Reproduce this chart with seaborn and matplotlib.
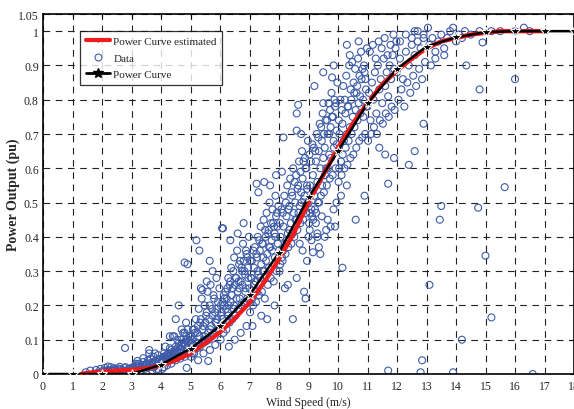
import numpy as np
import pandas as pd
import matplotlib
matplotlib.use("Agg")
import matplotlib.pyplot as plt
import seaborn as sns
from matplotlib.lines import Line2D

# ---------------- data ----------------
# Power curve (black, star markers) at integer wind speeds
pc_x = [0, 1, 2, 3, 4, 5, 6, 7, 8, 9, 10, 11, 12, 13, 14, 15, 16, 17, 18]
pc_y = [0, 0, 0, 0, 0.027, 0.074, 0.14, 0.23, 0.354, 0.515, 0.65, 0.79, 0.89,
        0.955, 0.982, 0.997, 1.0, 1.0, 1.0]

# Estimated power curve (red)
est_x = [1.3, 1.5, 2.0, 2.5, 3.0, 3.5, 4.0, 4.5, 5.0, 5.5, 6.0, 6.5, 7.0, 7.5,
         8.0, 8.5, 9.0, 9.5, 10.0, 10.5, 11.0, 11.5, 12.0, 12.5, 13.0, 13.5,
         14.0, 14.5, 15.0, 15.5, 16.0, 16.5, 17.0]
est_y = [0.0, 0.003, 0.007, 0.01, 0.012, 0.016, 0.025, 0.04, 0.06, 0.09, 0.122,
         0.162, 0.208, 0.268, 0.335, 0.41, 0.5, 0.58, 0.66, 0.73, 0.79, 0.845,
         0.885, 0.92, 0.95, 0.97, 0.98, 0.99, 0.995, 1.0, 1.0, 1.0, 1.0]

# Measured data (blue circles), grouped by wind-speed band
xa = [1.45, 1.6, 1.7, 1.8, 1.85, 1.95, 2.0, 2.05, 2.1, 2.15, 2.2, 2.25, 2.3, 2.35, 2.4, 2.45, 2.5, 2.55,
      2.6, 2.65, 2.7, 2.75, 2.8, 2.85, 2.9, 2.95, 2.1, 2.3, 2.5, 2.7, 2.9, 2.2, 2.4, 2.6, 2.8, 2.78]
ya = [0.005, 0.01, 0.0, 0.012, 0.004, 0.015, 0.008, 0.002, 0.018, 0.006, 0.012, 0.0, 0.02, 0.009, 0.003,
      0.014, 0.007, 0.016, 0.001, 0.011, 0.005, 0.018, 0.009, 0.004, 0.013, 0.006, 0.0, 0.004, 0.0, 0.002,
      0.001, 0.022, 0.017, 0.021, 0.02, 0.076]

xb = [3.0, 3.05, 3.1, 3.15, 3.2, 3.25, 3.3, 3.35, 3.4, 3.45, 3.5, 3.55, 3.6, 3.65, 3.7, 3.75, 3.8, 3.85,
      3.9, 3.95, 3.1, 3.3, 3.5, 3.7, 3.9, 3.2, 3.4, 3.6, 3.8, 3.15, 3.45, 3.75, 3.95, 3.6, 3.85]
yb = [0.01, 0.02, 0.005, 0.025, 0.012, 0.03, 0.008, 0.018, 0.035, 0.015, 0.028, 0.04, 0.02, 0.045, 0.03,
      0.05, 0.038, 0.025, 0.055, 0.042, 0.0, 0.003, 0.0, 0.01, 0.015, 0.038, 0.046, 0.06, 0.06, 0.03,
      0.022, 0.02, 0.03, 0.07, 0.012]

xc = [4.0, 4.05, 4.1, 4.15, 4.2, 4.25, 4.3, 4.35, 4.4, 4.45, 4.5, 4.55, 4.6, 4.65, 4.7, 4.75, 4.8, 4.85,
      4.9, 4.95, 4.05, 4.2, 4.35, 4.5, 4.65, 4.8, 4.95, 4.1, 4.3, 4.55, 4.75, 4.9, 4.15, 4.45, 4.7, 4.85,
      4.3, 4.4, 4.5, 4.8, 4.8, 4.9, 4.87, 4.6]
yc = [0.03, 0.045, 0.02, 0.05, 0.038, 0.06, 0.042, 0.07, 0.055, 0.065, 0.08, 0.05, 0.09, 0.07, 0.1, 0.06,
      0.085, 0.11, 0.075, 0.095, 0.015, 0.025, 0.03, 0.04, 0.045, 0.05, 0.06, 0.06, 0.075, 0.1, 0.12,
      0.13, 0.08, 0.11, 0.13, 0.15, 0.11, 0.11, 0.16, 0.12, 0.325, 0.32, 0.018, 0.2]

xd = [5.0, 5.05, 5.1, 5.15, 5.2, 5.25, 5.3, 5.35, 5.4, 5.45, 5.5, 5.55, 5.6, 5.65, 5.7, 5.75, 5.8, 5.85,
      5.9, 5.95, 5.02, 5.12, 5.22, 5.32, 5.42, 5.52, 5.62, 5.72, 5.82, 5.92, 5.08, 5.18, 5.28, 5.38,
      5.48, 5.58, 5.68, 5.78, 5.88, 5.98, 5.04, 5.26, 5.44, 5.66, 5.84, 5.2, 5.3, 5.35, 5.4, 5.65, 5.6,
      5.75, 5.9, 5.55]
yd = [0.07, 0.1, 0.085, 0.12, 0.09, 0.14, 0.11, 0.16, 0.13, 0.1, 0.15, 0.18, 0.12, 0.2, 0.14, 0.17, 0.22,
      0.15, 0.19, 0.13, 0.05, 0.06, 0.075, 0.08, 0.09, 0.095, 0.1, 0.11, 0.12, 0.13, 0.13, 0.16, 0.19,
      0.22, 0.2, 0.24, 0.26, 0.23, 0.28, 0.25, 0.09, 0.04, 0.06, 0.07, 0.085, 0.39, 0.36, 0.25, 0.245,
      0.33, 0.038, 0.3, 0.16, 0.27]

xe = [6.0, 6.05, 6.1, 6.15, 6.2, 6.25, 6.3, 6.35, 6.4, 6.45, 6.5, 6.55, 6.6, 6.65, 6.7, 6.75, 6.8, 6.85,
      6.9, 6.95, 6.02, 6.12, 6.22, 6.32, 6.42, 6.52, 6.62, 6.72, 6.82, 6.92, 6.08, 6.18, 6.28, 6.38,
      6.48, 6.58, 6.68, 6.78, 6.88, 6.98, 6.04, 6.14, 6.26, 6.36, 6.46, 6.56, 6.66, 6.76, 6.86, 6.96,
      6.07, 6.1, 6.3, 6.5, 6.7, 6.9, 6.35, 6.6, 6.8]
ye = [0.14, 0.18, 0.16, 0.22, 0.19, 0.25, 0.2, 0.27, 0.23, 0.3, 0.26, 0.28, 0.24, 0.32, 0.27, 0.3, 0.33,
      0.29, 0.35, 0.31, 0.1, 0.12, 0.13, 0.15, 0.16, 0.17, 0.19, 0.2, 0.21, 0.22, 0.21, 0.24, 0.28,
      0.31, 0.34, 0.36, 0.33, 0.38, 0.36, 0.4, 0.17, 0.2, 0.18, 0.21, 0.19, 0.22, 0.25, 0.26, 0.24,
      0.28, 0.425, 0.425, 0.08, 0.1, 0.12, 0.14, 0.39, 0.41, 0.44]

xf = [7.0, 7.05, 7.1, 7.15, 7.2, 7.25, 7.3, 7.35, 7.4, 7.45, 7.5, 7.55, 7.6, 7.65, 7.7, 7.75, 7.8, 7.85,
      7.9, 7.95, 7.02, 7.12, 7.22, 7.32, 7.42, 7.52, 7.62, 7.72, 7.82, 7.92, 7.08, 7.18, 7.28, 7.38,
      7.48, 7.58, 7.68, 7.78, 7.88, 7.98, 7.04, 7.16, 7.26, 7.36, 7.46, 7.56, 7.66, 7.76, 7.86, 7.96,
      7.24, 7.3, 7.5, 7.7, 7.6, 7.85, 7.4, 7.1, 7.9]
yf = [0.25, 0.28, 0.22, 0.31, 0.27, 0.34, 0.29, 0.36, 0.32, 0.38, 0.3, 0.4, 0.35, 0.42, 0.37, 0.39, 0.44,
      0.41, 0.46, 0.43, 0.18, 0.2, 0.21, 0.23, 0.24, 0.22, 0.26, 0.28, 0.27, 0.3, 0.33, 0.37, 0.4, 0.43,
      0.45, 0.47, 0.5, 0.48, 0.52, 0.49, 0.21, 0.26, 0.24, 0.28, 0.3, 0.33, 0.31, 0.36, 0.34, 0.38,
      0.555, 0.53, 0.56, 0.55, 0.16, 0.2, 0.17, 0.14, 0.58]

xg = [8.0, 8.05, 8.1, 8.15, 8.2, 8.25, 8.3, 8.35, 8.4, 8.45, 8.5, 8.55, 8.6, 8.65, 8.7, 8.75, 8.8, 8.85,
      8.9, 8.95, 8.02, 8.12, 8.22, 8.32, 8.42, 8.52, 8.62, 8.72, 8.82, 8.92, 8.08, 8.18, 8.28, 8.38,
      8.48, 8.58, 8.68, 8.78, 8.88, 8.98, 8.04, 8.14, 8.26, 8.36, 8.46, 8.56, 8.66, 8.76, 8.86, 8.96,
      8.47, 8.9, 8.85, 8.3, 8.6, 8.2, 8.75, 8.1, 8.15, 8.6, 8.6, 8.65]
yg = [0.36, 0.4, 0.34, 0.43, 0.38, 0.46, 0.41, 0.49, 0.44, 0.52, 0.47, 0.5, 0.45, 0.55, 0.49, 0.53, 0.57,
      0.51, 0.6, 0.55, 0.3, 0.33, 0.35, 0.37, 0.38, 0.4, 0.42, 0.44, 0.45, 0.47, 0.48, 0.52, 0.55, 0.57,
      0.6, 0.58, 0.62, 0.65, 0.63, 0.68, 0.32, 0.36, 0.39, 0.42, 0.41, 0.45, 0.47, 0.5, 0.52, 0.54,
      0.16, 0.22, 0.24, 0.26, 0.28, 0.25, 0.7, 0.59, 0.69, 0.71, 0.76, 0.785]

xh = [9.0, 9.05, 9.1, 9.15, 9.2, 9.25, 9.3, 9.35, 9.4, 9.45, 9.5, 9.55, 9.6, 9.65, 9.7, 9.75, 9.8, 9.85,
      9.9, 9.95, 9.02, 9.12, 9.22, 9.32, 9.42, 9.52, 9.62, 9.72, 9.82, 9.92, 9.08, 9.18, 9.28, 9.38,
      9.48, 9.58, 9.68, 9.78, 9.88, 9.98, 9.04, 9.16, 9.26, 9.36, 9.46, 9.56, 9.66, 9.76, 9.86, 9.96,
      9.15, 9.4, 9.3, 9.6, 9.9, 9.2, 9.5, 9.85, 9.7, 9.5, 9.8]
yh = [0.5, 0.55, 0.48, 0.58, 0.52, 0.62, 0.56, 0.65, 0.6, 0.68, 0.63, 0.66, 0.6, 0.7, 0.64, 0.72, 0.75,
      0.68, 0.78, 0.71, 0.44, 0.46, 0.48, 0.5, 0.52, 0.53, 0.55, 0.57, 0.58, 0.6, 0.62, 0.66, 0.7, 0.73,
      0.76, 0.74, 0.79, 0.82, 0.8, 0.85, 0.42, 0.45, 0.47, 0.5, 0.55, 0.58, 0.6, 0.63, 0.66, 0.67,
      0.355, 0.35, 0.4, 0.42, 0.43, 0.84, 0.88, 0.9, 0.7, 0.79, 0.865]

xi = [10.0, 10.05, 10.1, 10.15, 10.2, 10.25, 10.3, 10.35, 10.4, 10.45, 10.5, 10.55, 10.6, 10.65, 10.7,
      10.75, 10.8, 10.85, 10.9, 10.95, 10.02, 10.12, 10.22, 10.32, 10.42, 10.52, 10.62, 10.72, 10.82,
      10.92, 10.08, 10.18, 10.28, 10.38, 10.48, 10.58, 10.68, 10.78, 10.88, 10.98, 10.04, 10.16, 10.26,
      10.36, 10.46, 10.56, 10.66, 10.76, 10.86, 10.96, 10.6, 10.15, 10.9, 10.4, 10.7, 10.3]
yi = [0.65, 0.7, 0.62, 0.73, 0.68, 0.76, 0.7, 0.78, 0.72, 0.8, 0.75, 0.82, 0.77, 0.84, 0.79, 0.81, 0.86,
      0.8, 0.88, 0.83, 0.56, 0.58, 0.6, 0.61, 0.63, 0.64, 0.66, 0.68, 0.69, 0.7, 0.8, 0.84, 0.87, 0.9,
      0.91, 0.89, 0.92, 0.94, 0.9, 0.95, 0.6, 0.64, 0.66, 0.68, 0.7, 0.72, 0.74, 0.76, 0.75, 0.78,
      0.45, 0.31, 0.52, 0.93, 0.97, 0.96]

xj = [11.0, 11.05, 11.1, 11.15, 11.2, 11.25, 11.3, 11.35, 11.4, 11.45, 11.5, 11.55, 11.6, 11.65, 11.7,
      11.75, 11.8, 11.85, 11.9, 11.95, 11.02, 11.12, 11.22, 11.32, 11.42, 11.52, 11.62, 11.72, 11.82,
      11.92, 11.08, 11.18, 11.28, 11.38, 11.48, 11.58, 11.68, 11.78, 11.88, 11.98, 11.7, 11.9, 11.7,
      11.4, 11.6]
yj = [0.78, 0.82, 0.74, 0.85, 0.8, 0.88, 0.76, 0.9, 0.83, 0.86, 0.79, 0.92, 0.84, 0.88, 0.81, 0.9, 0.86,
      0.93, 0.89, 0.95, 0.68, 0.7, 0.72, 0.7, 0.74, 0.73, 0.76, 0.75, 0.78, 0.77, 0.94, 0.96, 0.92,
      0.97, 0.95, 0.98, 0.93, 0.96, 0.99, 0.97, 0.555, 0.63, 0.01, 0.66, 0.64]

xk = [12.0, 12.1, 12.2, 12.3, 12.4, 12.5, 12.6, 12.7, 12.8, 12.9, 12.05, 12.15, 12.25, 12.35, 12.45,
      12.55, 12.65, 12.75, 12.85, 12.95, 12.1, 12.3, 12.5, 12.7, 12.9, 12.4, 12.6, 12.6, 12.9, 12.8, 12.85]
yk = [0.88, 0.92, 0.86, 0.94, 0.9, 0.96, 0.93, 0.97, 0.95, 0.98, 0.8, 0.83, 0.78, 0.85, 0.82, 0.87,
      0.84, 0.89, 0.86, 0.91, 0.97, 0.99, 0.98, 1.0, 0.99, 0.61, 0.65, 1.0, 0.73, 0.005, 0.04]

xl = [13.05, 13.1, 13.2, 13.3, 13.4, 13.5, 13.6, 13.7, 13.8, 13.9, 14.0, 14.1, 14.2, 14.3, 14.35, 14.5,
      14.8, 14.9, 15.2, 15.5, 16.0, 16.3, 16.5, 13.1, 13.45, 13.5, 14.2, 13.9, 15.0, 15.2, 14.75, 16.6,
      15.65, 14.8, 16.0, 13.15, 13.3, 13.6]
yl = [1.01, 0.96, 0.98, 0.94, 0.97, 0.99, 0.95, 0.98, 1.0, 1.01, 0.97, 0.99, 0.98, 1.0, 0.9, 0.99, 1.0,
      0.967, 1.0, 1.0, 1.0, 1.01, 1.0, 0.26, 0.45, 0.49, 0.1, 0.005, 0.345, 0.165, 0.485, 0.0, 0.545,
      0.83, 0.86, 0.9, 0.92, 0.93]

# extra points filling the dense band along the curve
xm1 = [2.02, 2.18, 2.33, 2.47, 2.62, 2.77, 2.93, 3.03, 3.12, 3.22, 3.28, 3.37, 3.43, 3.52, 3.58, 3.67,
       3.73, 3.82, 3.88, 3.97, 4.03, 4.08, 4.13, 4.18, 4.23, 4.28, 4.33, 4.38, 4.43, 4.48, 4.53, 4.58,
       4.63, 4.68, 4.73, 4.78, 4.83, 4.88, 4.93, 4.98]
ym1 = [0.006, 0.009, 0.012, 0.008, 0.014, 0.01, 0.016, 0.018, 0.015, 0.022, 0.02, 0.026, 0.024, 0.03,
       0.028, 0.034, 0.032, 0.038, 0.036, 0.044, 0.04, 0.05, 0.046, 0.055, 0.05, 0.058, 0.054, 0.064,
       0.06, 0.07, 0.066, 0.078, 0.072, 0.085, 0.08, 0.092, 0.088, 0.1, 0.096, 0.108]
xm2 = [5.03, 5.13, 5.23, 5.33, 5.43, 5.53, 5.63, 5.73, 5.83, 5.93, 6.03, 6.13, 6.23, 6.33, 6.43, 6.53,
       6.63, 6.73, 6.83, 6.93, 7.03, 7.13, 7.23, 7.33, 7.43, 7.53, 7.63, 7.73, 7.83, 7.93, 5.07, 5.27,
       5.47, 5.67, 5.87, 6.07, 6.27, 6.47, 6.67, 6.87, 7.07, 7.27, 7.47, 7.67, 7.87]
ym2 = [0.11, 0.13, 0.12, 0.15, 0.14, 0.17, 0.16, 0.19, 0.18, 0.21, 0.2, 0.23, 0.22, 0.26, 0.25, 0.28,
       0.27, 0.31, 0.3, 0.34, 0.33, 0.36, 0.35, 0.39, 0.38, 0.42, 0.41, 0.44, 0.43, 0.47, 0.06, 0.09,
       0.11, 0.13, 0.15, 0.14, 0.17, 0.2, 0.22, 0.25, 0.28, 0.3, 0.34, 0.37, 0.4]
xm3 = [8.03, 8.13, 8.23, 8.33, 8.43, 8.53, 8.63, 8.73, 8.83, 8.93, 9.03, 9.13, 9.23, 9.33, 9.43, 9.53,
       9.63, 9.73, 9.83, 9.93, 10.03, 10.13, 10.23, 10.33, 10.43, 10.53, 10.63, 10.73, 10.83, 10.93]
ym3 = [0.44, 0.47, 0.5, 0.48, 0.53, 0.56, 0.54, 0.59, 0.62, 0.6, 0.64, 0.67, 0.65, 0.69, 0.72, 0.7,
       0.74, 0.77, 0.75, 0.79, 0.74, 0.77, 0.8, 0.78, 0.83, 0.85, 0.82, 0.87, 0.89, 0.86]
xm4 = [9.05, 9.25, 9.45, 9.65, 9.85, 9.1, 9.3, 9.55, 9.75, 8.7, 8.8, 8.95, 9.0, 9.35, 9.95, 10.1, 10.3]
ym4 = [0.47, 0.44, 0.46, 0.45, 0.48, 0.39, 0.41, 0.4, 0.43, 0.38, 0.36, 0.33, 0.4, 0.37, 0.5, 0.52, 0.55]

x_ticks = list(range(0, 19))
y_ticks = [0, 0.1, 0.2, 0.3, 0.4, 0.5, 0.6, 0.7, 0.8, 0.9, 1.0, 1.05]
y_tick_labels = ["0", "0.1", "0.2", "0.3", "0.4", "0.5", "0.6", "0.7", "0.8", "0.9", "1", "1.05"]

# ---------------- plot ----------------
sns.set_style("white")
plt.rcParams["font.family"] = ["Liberation Serif", "DejaVu Serif"]

data_df = pd.DataFrame({
    "ws": xa + xb + xc + xd + xe + xf + xg + xh + xi + xj + xk + xl + xm1 + xm2 + xm3 + xm4,
    "p": ya + yb + yc + yd + ye + yf + yg + yh + yi + yj + yk + yl + ym1 + ym2 + ym3 + ym4,
})
est_df = pd.DataFrame({"ws": est_x, "p": est_y})
pc_df = pd.DataFrame({"ws": pc_x, "p": pc_y})

fig = plt.figure(figsize=(5.74, 4.10), dpi=100)
ax = fig.add_axes([43 / 574, 35 / 410, 531 / 574, 360 / 410])

ax.set_xlim(0, 18)
ax.set_ylim(0, 1.05)
ax.set_xticks(x_ticks)
ax.set_yticks(y_ticks)
ax.set_yticklabels(y_tick_labels)

ax.grid(True, linestyle=(0, (6, 5)), color="#222222", linewidth=0.8)
ax.set_axisbelow(True)

blue = "#3d5ba8"
sns.scatterplot(data=data_df, x="ws", y="p", ax=ax, marker="o", s=25,
                facecolors="none", edgecolor=blue, linewidth=0.8,
                zorder=2, legend=False)
sns.lineplot(data=est_df, x="ws", y="p", ax=ax, color="#ee1c1c", linewidth=3.2,
             marker=".", markersize=4, markeredgewidth=0, estimator=None,
             sort=False, zorder=3, legend=False)
sns.lineplot(data=pc_df, x="ws", y="p", ax=ax, color="black", linewidth=1.8,
             marker="*", markersize=7, estimator=None, sort=False, zorder=4,
             legend=False)

ax.set_xlabel("Wind Speed (m/s)", fontsize=8.5, labelpad=3)
ax.set_ylabel("Power Output (pu)", fontsize=10, fontweight="bold")
ax.yaxis.set_label_coords(-23 / 531, 0.5)
ax.tick_params(axis="both", direction="in", length=3, labelsize=8.5,
               top=True, right=True, width=0.8, color="black")
ax.tick_params(axis="x", pad=4)
ax.tick_params(axis="y", pad=3)

for sp in ax.spines.values():
    sp.set_color("black")
    sp.set_linewidth(1.2)

handles = [
    Line2D([], [], color="#ee1c1c", linewidth=3, marker=".", markersize=4),
    Line2D([], [], color=blue, linestyle="none", marker="o", markersize=5,
           markerfacecolor="none", markeredgewidth=0.8),
    Line2D([], [], color="black", linewidth=2, marker="*", markersize=7),
]
leg = ax.legend(handles, ["Power Curve estimated", "Data", "Power Curve"],
                loc="upper left", bbox_to_anchor=(37 / 531, 343 / 360),
                fontsize=8, frameon=True, fancybox=False, edgecolor="black",
                borderpad=0.5, handlelength=2.2, handletextpad=0.3,
                labelspacing=0.6, borderaxespad=0)
leg.get_frame().set_linewidth(0.9)

fig.savefig("out.png", dpi=100)
